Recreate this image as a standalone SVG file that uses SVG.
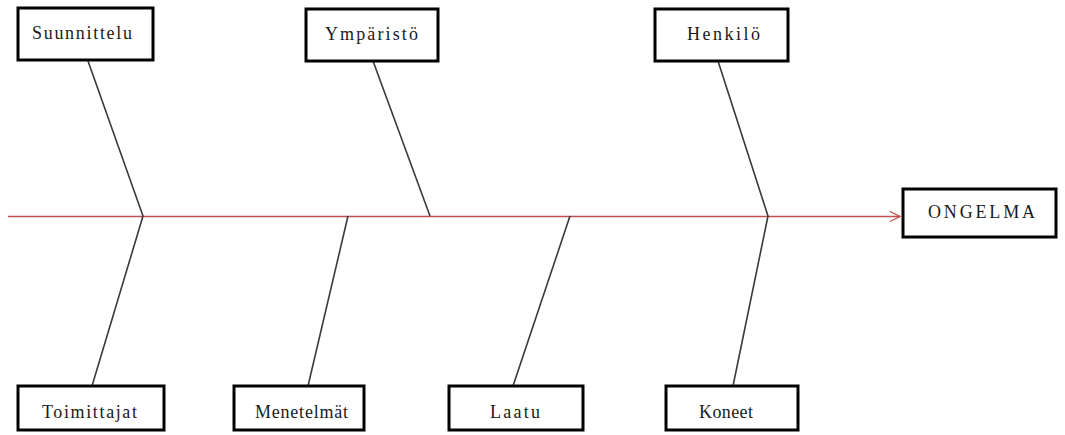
<svg xmlns="http://www.w3.org/2000/svg" width="1065" height="435" viewBox="0 0 1065 435">
  <defs>
    <style>
      .box { fill: #ffffff; stroke: #000000; stroke-width: 3; }
      .lbl { font-family: "Liberation Serif", "Times New Roman", serif; font-size: 18px; fill: #1a1a1a; }
      .bone { stroke: #3a3a3a; stroke-width: 1.6; fill: none; }
      .spine { stroke: #c0504d; stroke-width: 1.3; fill: none; }
    </style>
    <marker id="head" viewBox="0 0 12 12" refX="11" refY="6" markerWidth="12" markerHeight="12" markerUnits="userSpaceOnUse" orient="auto">
      <path d="M1,1 L11,6 L1,11" fill="none" stroke="#c0504d" stroke-width="1.3"/>
    </marker>
  </defs>
  <rect width="1065" height="435" fill="#ffffff"/>

  <!-- spine and cause bones -->
  <g id="connectors">
    <line class="spine" x1="8" y1="216.5" x2="900" y2="216.5" marker-end="url(#head)"/>
    <polyline class="bone" points="88,61 143,216 92,386"/>
    <line class="bone" x1="373" y1="61" x2="430" y2="216"/>
    <polyline class="bone" points="718,61 768,216 733,386"/>
    <line class="bone" x1="348" y1="216" x2="308" y2="386"/>
    <line class="bone" x1="570" y1="216" x2="513" y2="386"/>
  </g>

  <g id="suunnittelu">
    <rect class="box" x="18" y="8" width="135" height="52"/>
    <text class="lbl" x="32" y="39" textLength="100" lengthAdjust="spacing">Suunnittelu</text>
  </g>
  <g id="ymparisto">
    <rect class="box" x="306" y="9" width="132" height="52"/>
    <text class="lbl" x="325" y="40" textLength="93" lengthAdjust="spacing">Ympäristö</text>
  </g>
  <g id="henkilo">
    <rect class="box" x="655" y="9" width="133" height="52"/>
    <text class="lbl" x="687" y="40" textLength="73" lengthAdjust="spacing">Henkilö</text>
  </g>
  <g id="ongelma">
    <rect class="box" x="903" y="189" width="153" height="48"/>
    <text class="lbl" x="928" y="218" textLength="107" lengthAdjust="spacing">ONGELMA</text>
  </g>
  <g id="toimittajat">
    <rect class="box" x="18" y="386" width="146" height="44"/>
    <text class="lbl" x="42" y="418" textLength="95" lengthAdjust="spacing">Toimittajat</text>
  </g>
  <g id="menetelmat">
    <rect class="box" x="234" y="386" width="130" height="44"/>
    <text class="lbl" x="255" y="418" textLength="93" lengthAdjust="spacing">Menetelmät</text>
  </g>
  <g id="laatu">
    <rect class="box" x="449" y="386" width="134" height="44"/>
    <text class="lbl" x="490" y="418" textLength="50" lengthAdjust="spacing">Laatu</text>
  </g>
  <g id="koneet">
    <rect class="box" x="666" y="386" width="132" height="44"/>
    <text class="lbl" x="699" y="418" textLength="54" lengthAdjust="spacing">Koneet</text>
  </g>
</svg>
